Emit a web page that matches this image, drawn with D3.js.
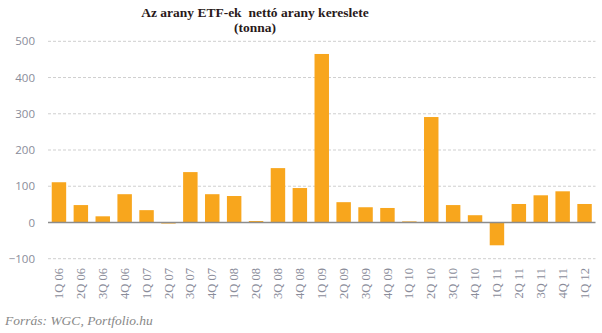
<!DOCTYPE html>
<html>
<head>
<meta charset="utf-8">
<script src="https://cdn.jsdelivr.net/npm/d3@7"></script>
<style>
  html, body { margin: 0; padding: 0; background: #fff; }
  svg { display: block; }
</style>
</head>
<body>
<svg id="chart" width="602" height="333"></svg>
<script>
// Quarterly net gold demand of gold ETFs (tonnes)
const quarters = ["1Q 06","2Q 06","3Q 06","4Q 06","1Q 07","2Q 07","3Q 07","4Q 07",
  "1Q 08","2Q 08","3Q 08","4Q 08","1Q 09","2Q 09","3Q 09","4Q 09",
  "1Q 10","2Q 10","3Q 10","4Q 10","1Q 11","2Q 11","3Q 11","4Q 11","1Q 12"];
const demand = [111, 48, 17, 78, 34, -3, 139, 78, 73, 4, 150, 95, 465, 56, 42, 40,
  3, 291, 48, 20, -63, 51, 75, 86, 51];
const yTicks = [-100, 0, 100, 200, 300, 400, 500];
const titleLines = ["Az arany ETF-ek  nettó arany kereslete", "(tonna)"];
const sourceText = "Forrás: WGC, Portfolio.hu";

const svg = d3.select("#chart");
const left = 48, right = 595.5;
const serif = "'Liberation Serif', 'Times New Roman', serif";

const x = d3.scaleBand().domain(quarters).range([left, right]).paddingInner(0.34).paddingOuter(0.17);
const y = d3.scaleLinear().domain([-100, 500]).range([258.7, 41.3]);

// Title
svg.append("text")
  .attr("text-anchor", "middle")
  .attr("font-family", serif)
  .attr("font-weight", "bold").attr("font-size", 13.5)
  .attr("fill", "#2a1a1a")
  .selectAll("tspan").data(titleLines).join("tspan")
  .attr("x", 255).attr("y", (d, i) => 17 + i * 14.5)
  .attr("xml:space", "preserve")
  .text(d => d);

// Dashed gridlines
svg.append("g").selectAll("line").data(yTicks.filter(t => t !== 0)).join("line")
  .attr("x1", left).attr("x2", right)
  .attr("y1", d => y(d)).attr("y2", d => y(d))
  .attr("stroke", "#cfcfcf").attr("stroke-width", 1)
  .attr("stroke-dasharray", "3,2");

// Y axis labels
const yAxis = d3.axisLeft(y).tickValues(yTicks).tickSize(0).tickPadding(0);
const yg = svg.append("g").attr("transform", "translate(35,0)").call(yAxis);
yg.select(".domain").remove();
yg.selectAll("text")
  .attr("font-family", "'Open Sans', 'DejaVu Sans', sans-serif")
  .attr("font-size", 11.5).attr("fill", "#8a8c9a");

// Bars
svg.append("g").selectAll("rect").data(demand).join("rect")
  .attr("x", (d, i) => x(quarters[i]))
  .attr("width", x.bandwidth())
  .attr("y", d => y(Math.max(0, d)))
  .attr("height", d => Math.abs(y(d) - y(0)))
  .attr("fill", "#F8A61D");

// Zero line
svg.append("line")
  .attr("x1", left).attr("x2", right)
  .attr("y1", y(0)).attr("y2", y(0))
  .attr("stroke", "#8c8c8c").attr("stroke-width", 1.5);

// X axis labels, rotated to read upwards, top-aligned under the plot
const xAxis = d3.axisBottom(x).tickSize(0).tickPadding(0);
const xg = svg.append("g").attr("transform", "translate(0,268)").call(xAxis);
xg.select(".domain").remove();
xg.selectAll(".tick text")
  .attr("font-family", serif)
  .attr("font-size", 12.5).attr("fill", "#8a8c9a")
  .attr("transform", "rotate(-90)")
  .attr("text-anchor", "end")
  .attr("x", 0).attr("y", 0).attr("dy", "0.33em");

// Source
svg.append("text")
  .attr("x", 5).attr("y", 325)
  .attr("font-family", serif)
  .attr("font-style", "italic").attr("font-size", 13.5)
  .attr("fill", "#888")
  .text(sourceText);
</script>
</body>
</html>
